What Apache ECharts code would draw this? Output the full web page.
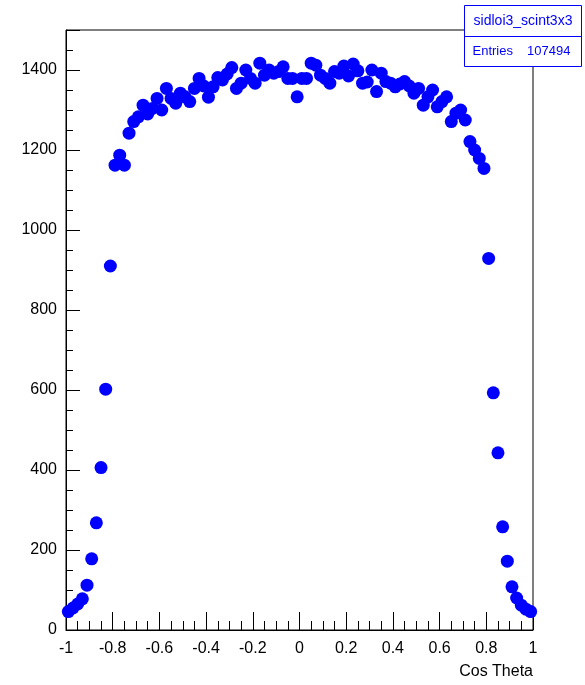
<!DOCTYPE html>
<html>
<head>
<meta charset="utf-8">
<script src="https://cdn.jsdelivr.net/npm/echarts@6/dist/echarts.min.js"></script>
<style>
  html, body { margin: 0; padding: 0; background: #fff; }
  #chart { width: 585px; height: 685px; }
</style>
</head>
<body>
<div id="chart"></div>
<script>
// Histogram of cos(theta): 100 bins from -1 to 1, one marker per bin centre.
const binLow = -1;
const binWidth = 0.02;
const counts = [
  46, 55, 65, 78, 112, 178, 268, 406, 602, 910,
  1162, 1187, 1162, 1242, 1271, 1283, 1312, 1290, 1304, 1329,
  1300, 1354, 1329, 1317, 1342, 1333, 1321, 1354, 1379, 1360,
  1332, 1358, 1381, 1375, 1390, 1406, 1354, 1367, 1400, 1379,
  1367, 1417, 1387, 1400, 1392, 1396, 1408, 1379, 1379, 1333,
  1379, 1379, 1417, 1412, 1387, 1379, 1367, 1396, 1392, 1410,
  1385, 1415, 1398, 1367, 1370, 1400, 1346, 1392, 1371, 1367,
  1358, 1365, 1371, 1360, 1342, 1354, 1312, 1333, 1350, 1308,
  1321, 1333, 1271, 1292, 1300, 1275, 1221, 1200, 1179, 1154,
  929, 593, 443, 258, 172, 108, 80, 62, 52, 46
];
const xTicks = [-1, -0.8, -0.6, -0.4, -0.2, 0, 0.2, 0.4, 0.6, 0.8, 1];
const yTicks = [0, 200, 400, 600, 800, 1000, 1200, 1400];
const histName = 'sidloi3_scint3x3';
const entries = 107494;
const xTitle = 'Cos Theta';

const points = counts.map((c, i) => [binLow + binWidth * (i + 0.5), c]);

const font = '"Liberation Sans", Arial, Helvetica, sans-serif';
const chart = echarts.init(document.getElementById('chart'), null, { renderer: 'canvas' });

chart.setOption({
  animation: false,
  backgroundColor: '#ffffff',
  grid: { left: 66, right: 52, top: 30, bottom: 55, show: true, borderColor: '#000', borderWidth: 1, backgroundColor: 'transparent' },
  xAxis: {
    type: 'value', min: xTicks[0], max: xTicks[xTicks.length - 1], interval: 0.2,
    axisLine: { show: true, onZero: false, lineStyle: { color: '#000', width: 1 } },
    axisTick: { show: true, inside: true, length: 18, lineStyle: { color: '#000' } },
    minorTick: { show: true, splitNumber: 4, length: 9, lineStyle: { color: '#000' } },
    splitLine: { show: false },
    axisLabel: {
      color: '#000', fontSize: 16, fontFamily: font, margin: 11,
      formatter: v => { const r = Math.round(v * 10) / 10; return xTicks.includes(r) ? String(r) : ''; }
    }
  },
  yAxis: [
    {
      type: 'value', min: 0, max: 1500, interval: 50,
      axisLine: { show: true, onZero: false, lineStyle: { color: '#000', width: 1 } },
      axisTick: { show: true, inside: true, length: 7, lineStyle: { color: '#000' } },
      splitLine: { show: false },
      axisLabel: {
        color: '#000', fontSize: 16, fontFamily: font, margin: 9,
        formatter: v => yTicks.includes(v) ? String(v) : ''
      }
    },
    {
      // major ticks every 200, drawn longer over the same left edge
      type: 'value', min: 0, max: 1500, interval: 200, position: 'left', offset: 0,
      axisLine: { show: false, onZero: false },
      axisTick: { show: true, inside: true, length: 14, lineStyle: { color: '#000' } },
      splitLine: { show: false },
      axisLabel: { show: false }
    }
  ],
  series: [{
    type: 'scatter',
    yAxisIndex: 0,
    data: points,
    symbol: 'circle',
    symbolSize: 13,
    itemStyle: { color: '#0000ff', opacity: 1 },
    clip: false
  }],
  graphic: [
    {
      type: 'text', right: 52, top: 664,
      style: { text: xTitle, fill: '#000', font: '16px ' + font, textAlign: 'right' }
    },
    {
      type: 'group', left: 462, top: 5,
      children: [
        { type: 'rect', shape: { x: 0, y: 0, width: 117, height: 61 }, style: { fill: '#fff', stroke: '#0000ff', lineWidth: 1 } },
        { type: 'line', shape: { x1: 0, y1: 31, x2: 117, y2: 31 }, style: { stroke: '#0000ff', lineWidth: 1 } },
        { type: 'text', x: 58.5, y: 16, style: { text: histName, fill: '#0000ff', font: '14px ' + font, textAlign: 'center', textVerticalAlign: 'middle' } },
        { type: 'text', x: 8, y: 46, style: { text: 'Entries', fill: '#0000ff', font: '13px ' + font, textAlign: 'left', textVerticalAlign: 'middle' } },
        { type: 'text', x: 106, y: 46, style: { text: String(entries), fill: '#0000ff', font: '13px ' + font, textAlign: 'right', textVerticalAlign: 'middle' } }
      ]
    }
  ]
});
</script>
</body>
</html>
